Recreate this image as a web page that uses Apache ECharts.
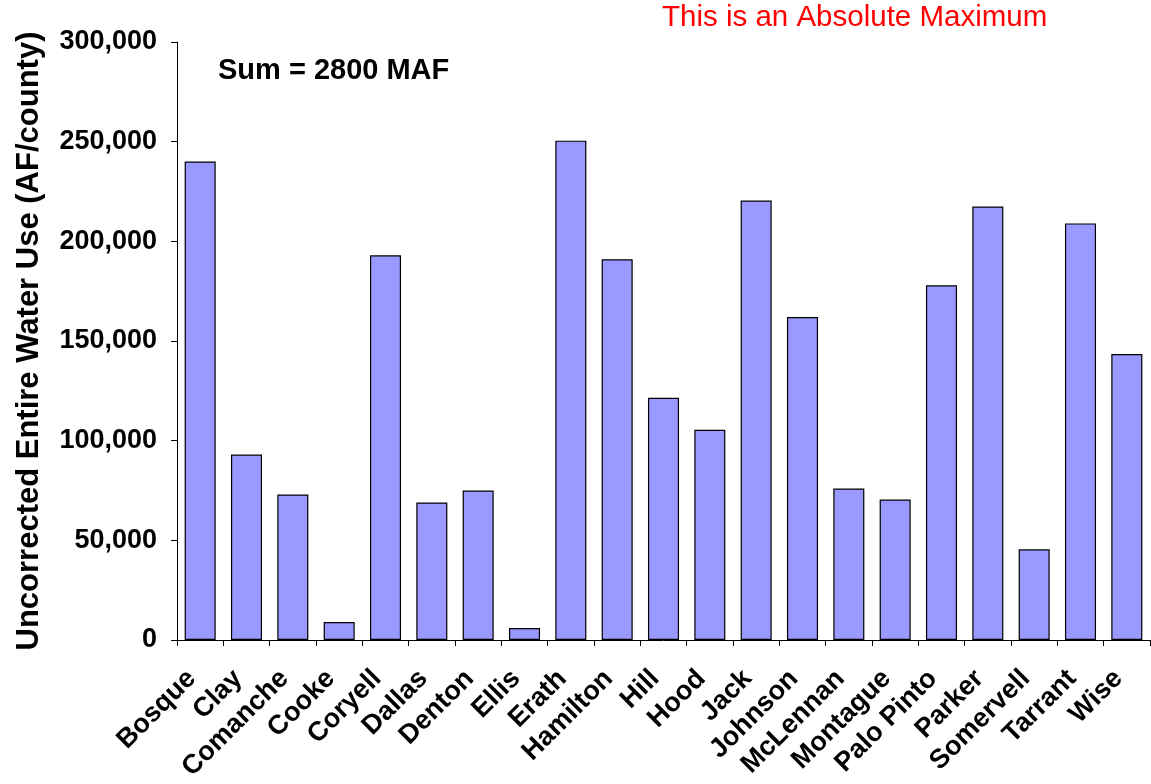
<!DOCTYPE html>
<html><head><meta charset="utf-8">
<script src="https://cdn.jsdelivr.net/npm/echarts@6/dist/echarts.min.js"></script>
<style>html,body{margin:0;padding:0;background:#fff}#c{width:1151px;height:784px}</style>
</head><body><div id="c"></div>
<script>
const categories = ["Bosque","Clay","Comanche","Cooke","Coryell","Dallas","Denton","Ellis","Erath","Hamilton","Hill","Hood","Jack","Johnson","McLennan","Montague","Palo Pinto","Parker","Somervell","Tarrant","Wise"];
const values = [240000,93000,73000,9000,193000,69000,75000,6000,250500,191000,121500,105500,220500,162000,76000,70500,178000,217500,45500,209000,143500];
const yTicks = {min:0, max:300000, interval:50000};
const yTitle = "Uncorrected Entire Water Use (AF/county)";
const sumNote = "Sum = 2800 MAF";
const redNote = "This is an Absolute Maximum";

const chart = echarts.init(document.getElementById('c'));
const font = "'Liberation Sans', Arial, sans-serif";
chart.setOption({
  animation:false,
  grid:{left:177,right:1,top:42,bottom:144,containLabel:false,outerBoundsMode:'none'},
  graphic:[
    {type:'text',left:218,top:56,style:{text:sumNote,font:"bold 29px "+font,fill:'#000'}},
    {type:'text',left:662,top:3,style:{text:redNote,font:"29.5px "+font,fill:'#ff0000'}}
  ],
  xAxis:{type:'category',data:categories,
    axisLine:{lineStyle:{color:'#000',width:1}},
    axisTick:{show:true,length:6,lineStyle:{color:'#000'}},
    axisLabel:{interval:0,rotate:45,fontFamily:font,fontWeight:'bold',fontSize:27,color:'#000',margin:26,padding:[0,12,0,0]}
  },
  yAxis:{type:'value',min:yTicks.min,max:yTicks.max,interval:yTicks.interval,
    name:yTitle,nameLocation:'middle',nameGap:132,nameRotate:90,
    nameTextStyle:{fontFamily:font,fontWeight:'bold',fontSize:31,color:'#000'},
    axisLine:{show:true,lineStyle:{color:'#000'}},
    axisTick:{show:true,length:6,lineStyle:{color:'#000'}},
    splitLine:{show:false},
    axisLabel:{fontFamily:font,fontWeight:'bold',fontSize:27,color:'#000',margin:20,
      formatter:v=>v.toLocaleString('en-US')}
  },
  series:[{type:'bar',data:values,barCategoryGap:'33%',
    itemStyle:{color:'#9999ff',borderColor:'#000',borderWidth:1.2}}]
});
</script></body></html>
